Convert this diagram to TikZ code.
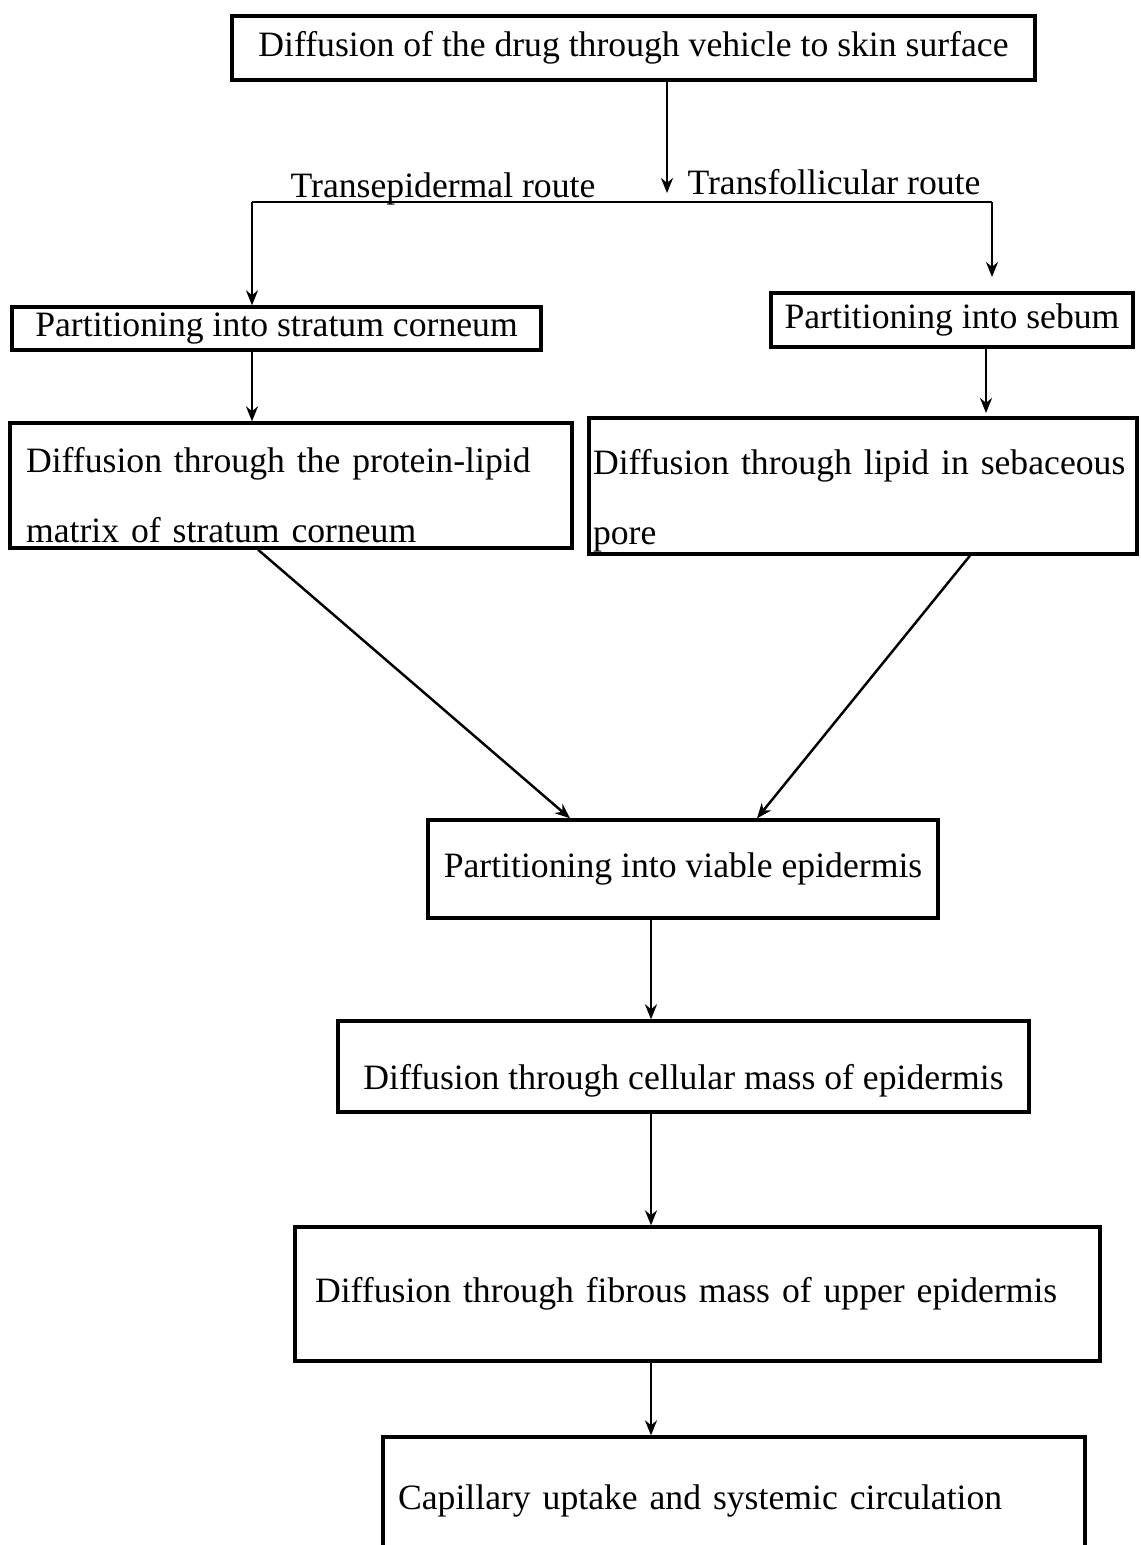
\documentclass[tikz,border=0pt]{standalone}
\usepackage{fontspec}
\setmainfont{Liberation Serif}
\usepackage{tikz}
\usetikzlibrary{shapes,positioning,arrows.meta}
\tikzset{box/.style={rectangle,draw,line width=1.9pt,inner sep=0.3cm,font=\fontsize{20.3}{24}\selectfont}}
\tikzset{route/.style={inner sep=0pt,font=\fontsize{20.3}{24}\selectfont}}

\begin{document}
\begin{tikzpicture}[>={Stealth[length=0.3cm,width=0.24cm]},x=0.02cm,y=-0.02cm,line width=1.4pt]
    \useasboundingbox (0,0) rectangle (1141,1545);
    \node[box,minimum width=16.06cm,minimum height=1.28cm] (top) at (633.5,48) {Diffusion of the drug through vehicle to skin surface};
    \node[box,minimum width=10.58cm,minimum height=0.86cm,inner sep=0.1cm] (stratum) at (276.5,328.5) {Partitioning into stratum corneum};
    \node[box,minimum width=7.24cm,minimum height=1.08cm,inner sep=0.1cm] (sebum) at (952,320) {Partitioning into sebum};
    \node[box,text width=10.6cm,inner xsep=0.32cm,inner ysep=0pt,minimum height=2.5cm,align=left] (lipidmatrix) at (291,485.5) {\rule{0pt}{0.9cm}Diffusion through the protein-lipid\\[0.55cm]matrix of stratum corneum};
    \node[box,text width=10.8cm,inner xsep=0.08cm,inner ysep=0pt,minimum height=2.72cm,align=left] (pore) at (863,486) {\rule{0pt}{1.1cm}Diffusion\ through\ lipid\ in\ sebaceous\\[0.55cm]pore};
    \node[box,minimum width=10.2cm,minimum height=1.96cm] (viable) at (683,869) {Partitioning into viable epidermis};
    \node[box,minimum width=13.82cm,minimum height=1.82cm,text height=30pt,inner ysep=0.1cm] (cellular) at (683.5,1066.5) {Diffusion through cellular mass of epidermis};
    \node[box,text width=15.3cm,inner xsep=0.4cm,minimum height=2.68cm,align=left] (fibrous) at (697.5,1294) {Diffusion through fibrous mass of upper epidermis};
    \node[box,text width=13.44cm,inner xsep=0.3cm,minimum height=2.56cm,align=left] (capillary) at (734,1501) {Capillary uptake and systemic circulation};

    \node[route,anchor=base] (transepi) at (443,197) {Transepidermal route};
    \node[route,anchor=base] (transfoll) at (834,194) {Transfollicular route};

    \coordinate (fork) at (667,193);
    \coordinate (tleft) at (252,202);
    \coordinate (tright) at (992,202);
    \coordinate (sebin) at (992,277);
    \coordinate (poretop) at (986,413);
    \coordinate (spine) at (651,0);

    \draw [->] (top.south -| fork) to (fork);
    \draw [] (tleft) to (tright);
    \draw [->] (tleft) to (stratum.north -| tleft);
    \draw [->] (tright) to (sebin);
    \draw [->] (stratum.south -| tleft) to (lipidmatrix.north -| tleft);
    \draw [->] (sebum.south -| poretop) to (poretop);
    \draw [->] ([xshift=-0.66cm]lipidmatrix.south) to ([xshift=-2.26cm]viable.north);
    \draw [->] ([xshift=2.14cm]pore.south) to ([xshift=1.48cm]viable.north);
    \draw [->] (viable.south -| spine) to (cellular.north -| spine);
    \draw [->] (cellular.south -| spine) to (fibrous.north -| spine);
    \draw [->] (fibrous.south -| spine) to (capillary.north -| spine);
\end{tikzpicture}
\end{document}
